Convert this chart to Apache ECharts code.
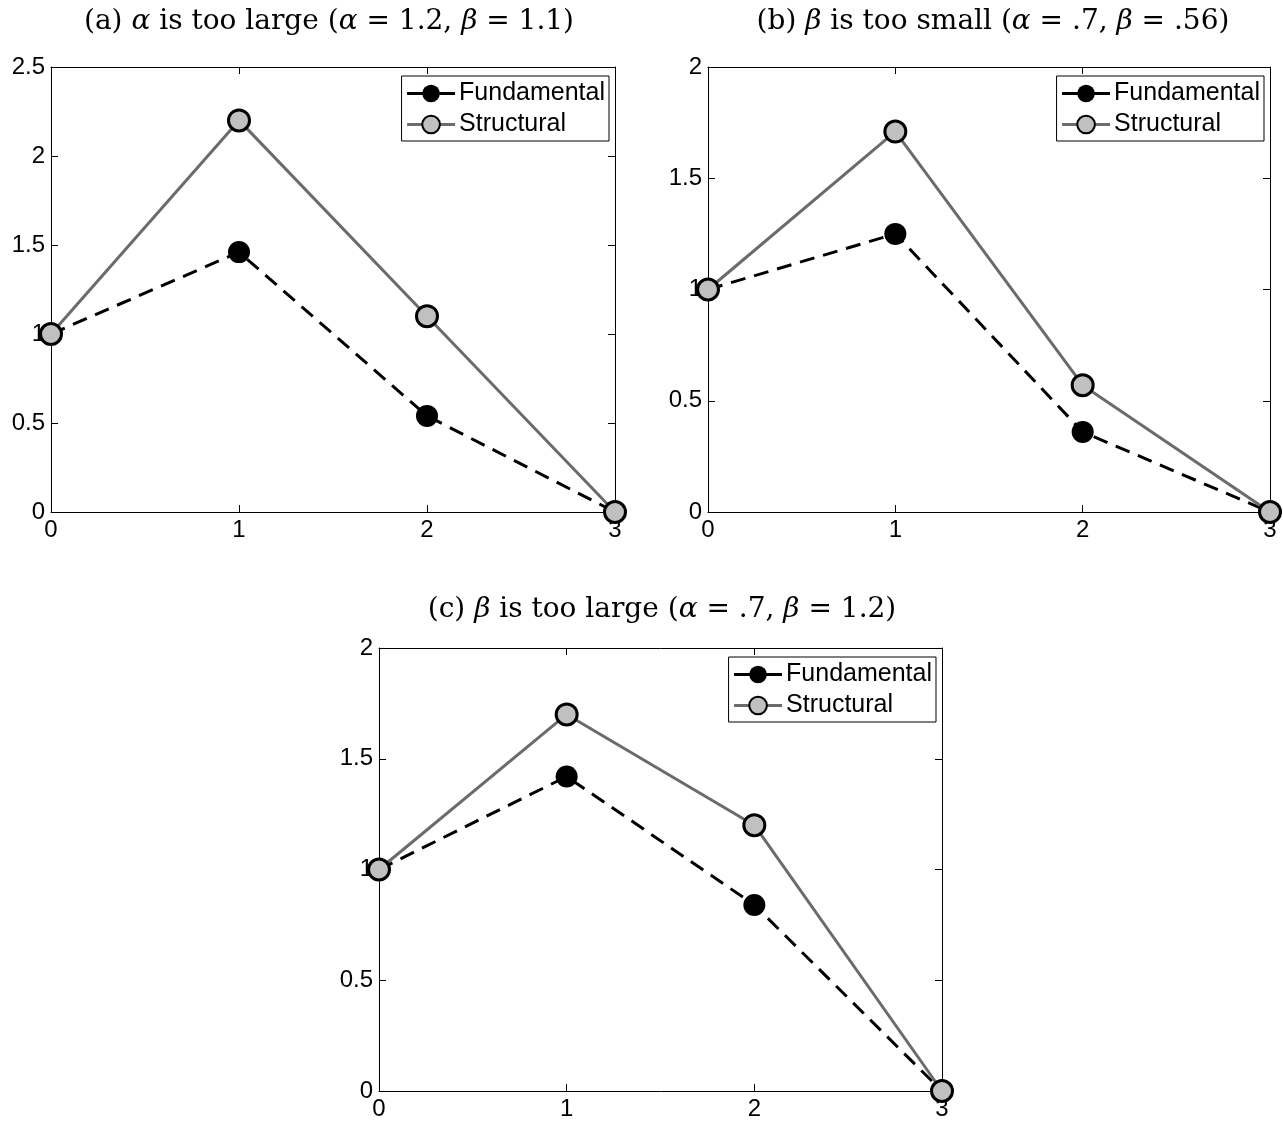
<!DOCTYPE html>
<html>
<head>
<meta charset="utf-8">
<script src="https://cdn.jsdelivr.net/npm/echarts@6/dist/echarts.min.js"></script>
<style>
html,body{margin:0;padding:0;background:#fff;}
#chart{width:1283px;height:1121px;}
</style>
</head>
<body>
<div id="chart"></div>
<script>
// ---- data ----
const xValues = [0, 1, 2, 3];
const fundamentalA = [1, 1.46, 0.54, 0];
const structuralA  = [1, 2.2, 1.1, 0];
const fundamentalB = [1, 1.25, 0.36, 0];
const structuralB  = [1, 1.71, 0.57, 0];
const fundamentalC = [1, 1.42, 0.84, 0];
const structuralC  = [1, 1.70, 1.20, 0];
const yMaxA = 2.5, yMaxB = 2, yMaxC = 2;
const seriesNames = ['Fundamental', 'Structural'];

const chart = echarts.init(document.getElementById('chart'), null, {renderer: 'canvas'});

const labelFont = 'Liberation Sans, Arial, Helvetica, sans-serif';
const titleFont = 'DejaVu Serif, Liberation Serif, serif';

const grids = [
  {left: 51, top: 67, width: 564, height: 445},
  {left: 708, top: 67, width: 562, height: 445},
  {left: 379, top: 648, width: 563, height: 444}
];
const yMaxes = [yMaxA, yMaxB, yMaxC];
const fundData = [fundamentalA, fundamentalB, fundamentalC];
const structData = [structuralA, structuralB, structuralC];

const xAxes = [], yAxes = [], series = [], legends = [], titles = [];

grids.forEach((g, i) => {
  const common = {
    type: 'value', gridIndex: i, min: 0, interval: 1, max: 3,
    axisLine: {show: true, onZero: false, lineStyle: {color: '#000', width: 1}},
    axisTick: {show: true, inside: true, length: 7, lineStyle: {color: '#000', width: 1}},
    splitLine: {show: false}
  };
  xAxes.push(Object.assign({}, common, {
    position: 'bottom',
    axisLabel: {color: '#000', fontSize: 24, fontFamily: labelFont, margin: 6}
  }));
  xAxes.push(Object.assign({}, common, {
    position: 'top', axisLabel: {show: false}
  }));
  const ycommon = Object.assign({}, common, {min: 0, max: yMaxes[i], interval: 0.5});
  yAxes.push(Object.assign({}, ycommon, {
    position: 'left',
    axisLabel: {color: '#000', fontSize: 24, fontFamily: labelFont, margin: 6}
  }));
  yAxes.push(Object.assign({}, ycommon, {
    position: 'right', axisLabel: {show: false}
  }));

  series.push({
    name: seriesNames[0], type: 'line', xAxisIndex: 2 * i, yAxisIndex: 2 * i,
    data: xValues.map((x, k) => [x, fundData[i][k]]),
    symbol: 'circle', symbolSize: 22, clip: false,
    lineStyle: {color: '#000', width: 3, type: [15, 9]},
    itemStyle: {color: '#000', borderColor: '#000', borderWidth: 0},
    z: 3
  });
  series.push({
    name: seriesNames[1], type: 'line', xAxisIndex: 2 * i, yAxisIndex: 2 * i,
    data: xValues.map((x, k) => [x, structData[i][k]]),
    symbol: 'circle', symbolSize: 21, clip: false,
    lineStyle: {color: '#6b6b6b', width: 3, type: 'solid'},
    itemStyle: {color: '#c0c0c0', borderColor: '#000', borderWidth: 3},
    z: 4
  });

  legends.push({
    data: [
      {name: seriesNames[0], lineStyle: {width: 3, type: 'solid', color: '#000'}},
      {name: seriesNames[1], lineStyle: {width: 3, type: 'solid', color: '#6b6b6b'}}
    ],
    orient: 'vertical',
    right: 1283 - (g.left + g.width) + 6,
    top: g.top + 9,
    backgroundColor: '#fff',
    borderColor: '#000',
    borderWidth: 1,
    padding: [5, 4, 4, 4],
    itemWidth: 48,
    itemHeight: 22,
    itemGap: 6,
    selectedMode: false,
    textStyle: {color: '#000', fontSize: 25, fontFamily: labelFont, padding: [0, 0, 0, -1]}
  });
});

const rich = {
  n: {fontFamily: titleFont, fontSize: 28, color: '#000', fontWeight: 'normal'},
  i: {fontFamily: titleFont, fontSize: 28, color: '#000', fontStyle: 'italic', fontWeight: 'normal'}
};
titles.push({
  text: '{n|(a) }{i|α}{n| is too large (}{i|α}{n| = 1.2, }{i|β}{n| = 1.1)}',
  left: 324, top: 3, textAlign: 'center', textStyle: {rich: rich, fontWeight: 'normal'}
});
titles.push({
  text: '{n|(b) }{i|β}{n| is too small (}{i|α}{n| = .7, }{i|β}{n| = .56)}',
  left: 988, top: 3, textAlign: 'center', textStyle: {rich: rich, fontWeight: 'normal'}
});
titles.push({
  text: '{n|(c) }{i|β}{n| is too large (}{i|α}{n| = .7, }{i|β}{n| = 1.2)}',
  left: 657, top: 591, textAlign: 'center', textStyle: {rich: rich, fontWeight: 'normal'}
});

chart.setOption({
  backgroundColor: '#fff',
  animation: false,
  title: titles,
  legend: legends,
  grid: grids,
  xAxis: xAxes,
  yAxis: yAxes,
  series: series
});
</script>
</body>
</html>
